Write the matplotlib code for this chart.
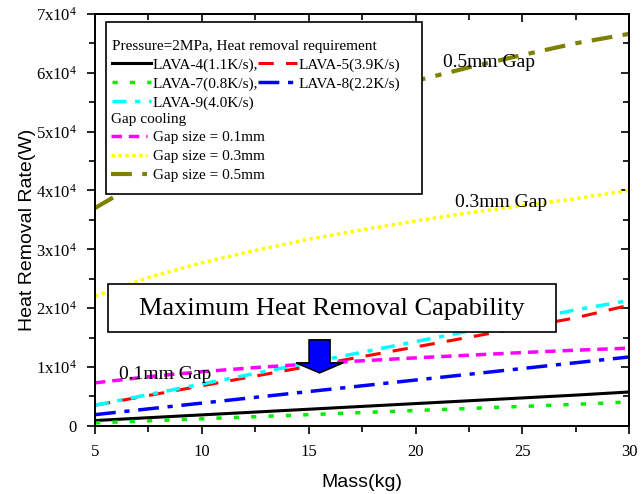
import numpy as np
import matplotlib
matplotlib.use('Agg')
import matplotlib.pyplot as plt
from matplotlib.lines import Line2D
from matplotlib.patches import Rectangle
from matplotlib.ticker import FuncFormatter, MultipleLocator

plt.rcParams['font.family'] = 'Liberation Serif'
plt.rcParams['mathtext.fontset'] = 'custom'
plt.rcParams['mathtext.rm'] = 'Liberation Serif'

mass = [5, 7.5, 10, 12.5, 15, 17.5, 20, 22.5, 25, 27.5, 30]

# heat removal requirement (W)
lava4 = [900, 1380, 1860, 2340, 2820, 3300, 3780, 4260, 4740, 5220, 5750]
lava5 = [3500, 5150, 6800, 8450, 10100, 11750, 13400, 15050, 16700, 18350, 20500]
lava7 = [500, 850, 1200, 1550, 1900, 2250, 2600, 2950, 3300, 3650, 4050]
lava8 = [1900, 2880, 3860, 4840, 5820, 6800, 7780, 8760, 9740, 10720, 11700]
lava9 = [3500, 5300, 7100, 8900, 10700, 12500, 14300, 16100, 17900, 19700, 21300]

# gap cooling capability (W)
gap01 = [7300, 8350, 9200, 9900, 10500, 11050, 11550, 12000, 12450, 12850, 13200]
gap03 = [22000, 25200, 27700, 29800, 31700, 33300, 34800, 36200, 37400, 38600, 40000]
gap05 = [37000, 42300, 46600, 50200, 53300, 56100, 58600, 60900, 63000, 65000, 66600]

fig = plt.figure(figsize=(6.42, 4.94), dpi=100)
ax = fig.add_axes([0.148, 0.138, 0.832, 0.834])

l4, = ax.plot(mass, lava4, color='black', lw=2.2, ls='-')
l5, = ax.plot(mass, lava5, color='red', lw=2.2, ls=(0, (5, 4)))
l7, = ax.plot(mass, lava7, color='#00ee00', lw=2.5, ls=(0, (1.5, 3.5)))
l8, = ax.plot(mass, lava8, color='blue', lw=2.5, ls=(0, (6, 2.5, 1.5, 2.5)))
l9, = ax.plot(mass, lava9, color='cyan', lw=2.5, ls=(0, (4, 2.5, 1.5, 2.5)))
g1, = ax.plot(mass, gap01, color='magenta', lw=2.5, ls=(0, (3, 2)))
g3, = ax.plot(mass, gap03, color='yellow', lw=2.5, ls=(0, (1, 1)))
g5, = ax.plot(mass, gap05, color='#808000', lw=3, ls=(0, (5, 2.5, 1.5, 2.5)))

ax.set_xlim(5, 30)
ax.set_ylim(0, 70000)
ax.xaxis.set_major_locator(MultipleLocator(5))
ax.xaxis.set_minor_locator(MultipleLocator(2.5))
ax.yaxis.set_major_locator(MultipleLocator(10000))
ax.yaxis.set_minor_locator(MultipleLocator(5000))


def yfmt(v, pos):
    if v == 0:
        return '0'
    return r'$\mathregular{%dx10^{4}}$' % round(v / 10000)


ax.yaxis.set_major_formatter(FuncFormatter(yfmt))
ax.tick_params(which='both', direction='out', top=False, right=False,
               labelsize=12, width=1.2, pad=7)
ax.tick_params(which='major', length=6)
ax.tick_params(which='minor', length=4)

# inward ticks on top and right
secx = ax.secondary_xaxis('top')
secx.xaxis.set_major_locator(MultipleLocator(5))
secx.xaxis.set_minor_locator(MultipleLocator(2.5))
secx.tick_params(which='both', direction='in', labeltop=False, width=1.2)
secx.tick_params(which='major', length=6)
secx.tick_params(which='minor', length=4)
secy = ax.secondary_yaxis('right')
secy.yaxis.set_major_locator(MultipleLocator(10000))
secy.yaxis.set_minor_locator(MultipleLocator(5000))
secy.tick_params(which='both', direction='in', labelright=False, width=1.2)
secy.tick_params(which='major', length=6)
secy.tick_params(which='minor', length=4)
for a in (ax, secx, secy):
    for s in a.spines.values():
        s.set_linewidth(1.4)

ax.set_xlabel('Mass(kg)', family='Liberation Sans', fontsize=14, labelpad=10)
ax.set_ylabel('Heat Removal Rate(W)', family='Liberation Sans', fontsize=14)
ax.yaxis.set_label_coords(-0.110, 0.476)

# legend frame
ax.add_patch(Rectangle((0.0206, 0.563), 0.592, 0.418, transform=ax.transAxes,
                       facecolor='white', edgecolor='black', lw=1.2, zorder=5))
leg1 = ax.legend([l4, l7, l9, l5, l8],
                 ['LAVA-4(1.1K/s),', 'LAVA-7(0.8K/s),', 'LAVA-9(4.0K/s)',
                  'LAVA-5(3.9K/s)', 'LAVA-8(2.2K/s)'],
                 ncol=2, loc='upper left', bbox_to_anchor=(0.031, 0.937),
                 frameon=False, fontsize=11, handlelength=2.6, handletextpad=0.05,
                 columnspacing=0.0, labelspacing=0.33, borderaxespad=0, borderpad=0,
                 title='Pressure=2MPa, Heat removal requirement', title_fontsize=11)
leg1._legend_box.align = 'left'
leg1.set_zorder(6)
ax.add_artist(leg1)
leg2 = ax.legend([g1, g3, g5],
                 ['Gap size = 0.1mm', 'Gap size = 0.3mm', 'Gap size = 0.5mm'],
                 loc='upper left', bbox_to_anchor=(0.029, 0.76),
                 frameon=False, fontsize=11, handlelength=2.4, handletextpad=0.4,
                 labelspacing=0.33, borderaxespad=0, borderpad=0,
                 title='Gap cooling', title_fontsize=11)
leg2._legend_box.align = 'left'
leg2.set_zorder(6)

ax.text(21.3, 61800, '0.5mm Gap', fontsize=14, va='center', ha='left')
ax.text(21.85, 38000, '0.3mm Gap', fontsize=14, va='center', ha='left')
ax.text(6.1, 8700, '0.1mm Gap', fontsize=14, va='center', ha='left')

ax.add_patch(Rectangle((0.0243, 0.228), 0.839, 0.117, transform=ax.transAxes,
                       facecolor='white', edgecolor='black', lw=1.2, zorder=7))
ax.text(0.443, 0.284, 'Maximum Heat Removal Capability', transform=ax.transAxes,
        fontsize=19, ha='center', va='center', zorder=8)

ax.arrow(15.51, 14600, 0, -5600, width=0.98, head_width=2.2, head_length=1700,
         length_includes_head=True, facecolor='blue', edgecolor='black', lw=1.2, zorder=7)

fig.savefig('out.png', dpi=100)
